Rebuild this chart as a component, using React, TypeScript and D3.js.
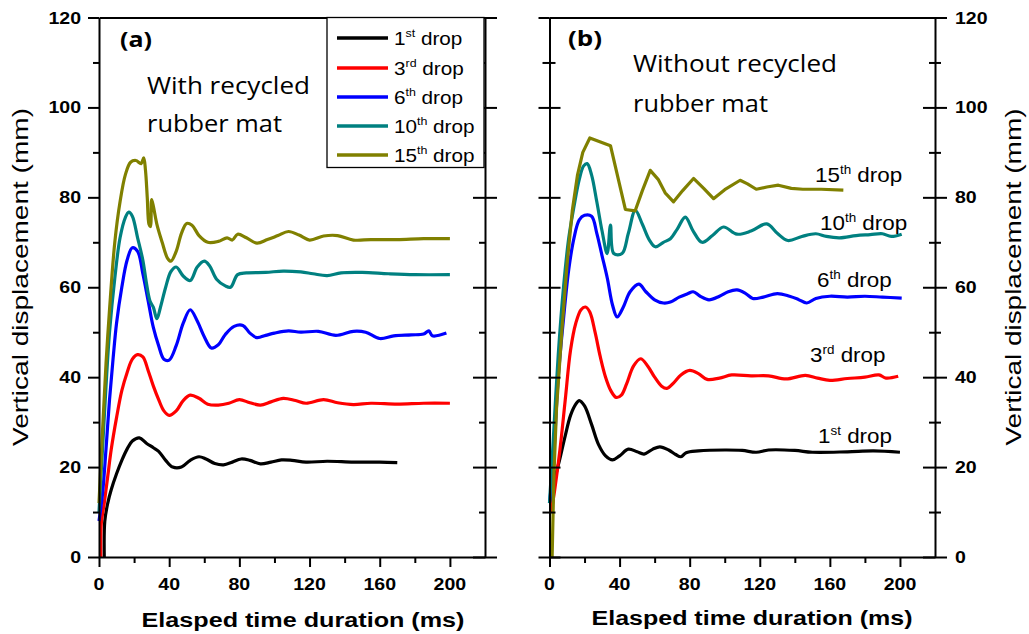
import React from "react";
import * as d3 from "d3";

const FONT = "Liberation Sans";
const CAL = "Open Sans";

// -- DATA -- [elapsed time (ms), vertical displacement (mm)]
// (a) with recycled rubber mat
const a1st = [[3,0],[3.3,8],[5,12],[7,15],[10,18.5],[13,21.5],[16,24],[19,25.8],[23,26.5],[27,25.3],[31,24.3],[34,23.5],[38,21.5],[42,20],[47,20],[52,21.5],[57,22.3],[61,21.8],[66,20.8],[71,20.5],[76,21.1],[81,21.8],[86,21.5],[92,20.7],[98,21.1],[104,21.6],[110,21.5],[118,21.1],[130,21.3],[145,21.1],[160,21.1],[170,21.0]];
const a3rd = [[1,0],[1.3,7.5],[3,12],[5,18],[7,24],[10,31],[13,37],[16,41],[19,44],[22,45],[25,44.5],[28,41.5],[31,38],[34,35],[37,32.5],[40,31.5],[44,32.5],[48,34.8],[52,36],[57,35.3],[62,34],[68,33.8],[74,34.2],[80,35],[86,34.3],[92,33.8],[98,34.5],[105,35.3],[112,34.8],[118,34.2],[128,35],[136,34.3],[145,33.9],[155,34.2],[170,34],[185,34.2],[200,34.2]];
const a6th = [[0,8],[2,14],[4,24],[6,35],[8,44],[10,52],[13,60],[16,66],[19,68.8],[22,68],[25,63],[28,57],[31,51],[34,47],[37,44],[40,43.8],[44,47],[48,52],[52,55],[56,52.5],[60,49],[64,46.5],[68,47.2],[72,49.5],[77,51.3],[82,51.5],[86,49.8],[90,48.8],[95,49.3],[100,49.8],[108,50.3],[115,50],[125,50.2],[135,49.3],[145,50.2],[152,50],[160,48.6],[168,49.2],[178,49.4],[185,49.6],[188,50.3],[190,49.2],[198,49.8]];
const a10th = [[0,10],[2,24],[4,38],[6,50],[9,62],[12,71],[15,75.5],[17,76.7],[19,75.8],[22,71],[25,66],[27,61],[29,57],[31,55.5],[33,53],[35,55.5],[38,60],[41,63.5],[44,64.5],[48,62.5],[52,61.5],[56,64.5],[60,65.8],[63,64.8],[67,61.8],[72,60.3],[75,60],[79,62.8],[84,63.2],[95,63.3],[105,63.6],[115,63.4],[122,63],[130,62.6],[138,63.2],[150,63.3],[165,63],[180,62.8],[200,62.8]];
const a15th = [[0,12],[2,28],[4,43],[6,55],[9,70],[12,79],[15,85],[18,87.8],[21,88.2],[24,87.5],[25.5,88.8],[26.5,86],[27.5,80],[28.5,74],[29.3,73.5],[30,79.5],[31,78],[33,74],[36,70],[39,66.5],[41,65.8],[44,68],[47,72],[50,74.2],[53,73.8],[57,71.5],[62,70],[68,70.2],[73,71],[76,70.5],[79,71.8],[84,71],[90,69.8],[96,70.6],[102,71.5],[108,72.4],[114,71.6],[120,70.5],[128,71.4],[136,71.5],[145,70.5],[155,70.6],[170,70.6],[185,70.8],[200,70.8]];

// (b) without recycled rubber mat
const b1st = [[1,10],[3,17],[6,22],[9,27],[12,31.5],[15,34],[17,34.8],[20,33.6],[24,29.5],[28,25],[32,22.5],[36,21.6],[40,22.5],[45,24],[50,23.4],[54,22.9],[59,24],[63,24.5],[68,23.8],[72,22.8],[75,22.3],[78,23.2],[85,23.6],[100,23.8],[110,23.7],[118,23.3],[125,23.8],[140,23.7],[150,23.3],[170,23.4],[185,23.6],[200,23.3]];
const b3rd = [[1,10],[3,15],[6,24],[9,35],[12,46],[15,52],[18,55],[20.5,55.6],[23,54.5],[26,50],[29,44.5],[32,40],[35,37],[38,35.5],[41,36],[44,38.5],[48,42.5],[52,44.1],[56,42.5],[60,40],[64,38],[67,37.5],[71,38.8],[75,40.5],[80,41.5],[85,40.8],[90,39.5],[97,39.8],[104,40.5],[115,40.3],[125,40.3],[135,39.6],[146,40.4],[153,39.8],[160,39.3],[170,39.7],[180,40],[188,40.5],[192,39.8],[199,40.2]];
const b6th = [[0,12],[2,20],[5,40],[8,53],[11,64],[14,71],[17,75],[20,76],[24,75.8],[27,72],[30,67],[33,62],[36,56],[38.6,53.4],[42,55.5],[46,59],[51,60.7],[55,59],[60,57.2],[65,56.5],[69,56.7],[74,57.8],[79,58.6],[82,59],[86,58],[91,57.2],[97,58],[102,59],[107,59.4],[112,58.6],[116,57.5],[122,57.8],[130,58.6],[137,58],[142,57.3],[146.8,56.5],[152,57.5],[160,58],[170,57.8],[180,58],[190,57.8],[201,57.6]];
const b10th = [[0,12],[2,25],[5,45],[8,60],[11,71],[14,78],[17,84],[19.5,87],[21.5,87.5],[24,85],[27,79],[30,72.5],[32.9,67.5],[34.8,73.8],[36.7,67.5],[41.4,67.5],[45,72],[49,77.1],[53,74],[57,70.5],[60.4,69],[65,70],[69,70.8],[73,73],[77.5,75.6],[82,72.5],[87,70],[93,71.5],[99.3,73.4],[107,71.8],[115,72.5],[124,74.1],[130,72],[136,70.4],[144,71.3],[152,71.9],[158,71.3],[165.6,71],[175,71.5],[183,71.7],[190,71.9],[195,71.3],[201,71.8]];
const b15th = [[1.5,0],[2.5,18],[4,33],[7,50],[10,65],[13,77],[16,85],[19,90],[23,93.2],[34.8,91.5],[43.3,77.3],[48.9,77],[53,81.5],[57.5,86],[62,84],[66,81],[70.8,79],[76,81.5],[82.2,84.2],[88,82],[93.6,79.7],[100,81.7],[108.8,83.8],[113,83],[118,81.8],[124,82.3],[130.6,82.7],[138,82],[144.6,81.8],[155,81.8],[167.7,81.6]];

const dropNames = [["1", "st"], ["3", "rd"], ["6", "th"], ["10", "th"], ["15", "th"]];
const dropColors = ["#000000", "#ff0000", "#0000ff", "#008080", "#808000"];
const yMajor = [0, 20, 40, 60, 80, 100, 120];
const yMinor = [10, 30, 50, 70, 90, 110];
const xMajor = [0, 40, 80, 120, 160, 200];
const xMinor = [20, 60, 100, 140, 180];

const App = () => {
  const svgRef = React.useRef(null);

  React.useEffect(() => {
    const svg = d3.select(svgRef.current);
    svg.selectAll("*").remove();

    // Scales
    const y = d3.scaleLinear().domain([0, 120]).range([557, 17.5]);
    const xa = d3.scaleLinear().domain([0, 220]).range([99, 485]);
    const xb = d3.scaleLinear().domain([0, 220]).range([549.5, 935]);
    const sx = 1.15; // the original figure is a bit wide

    const addAxis = (axis, tx, ty, keepDomain) => {
      const g = svg
        .append("g")
        .attr("transform", `translate(${tx},${ty})`)
        .call(axis.tickSizeOuter(0).tickFormat(() => ""));
      if (keepDomain) g.select(".domain").attr("stroke-width", 2).attr("stroke", "#000");
      else g.select(".domain").remove();
      g.selectAll(".tick line").attr("stroke-width", 2).attr("stroke", "#000");
      g.selectAll(".tick text").remove();
      return g;
    };

    const line = (x, curve) =>
      d3
        .line()
        .x((d) => x(d[0]))
        .y((d) => y(d[1]))
        .curve(curve);

    const drawSeries = (x, sets, curves) => {
      sets.forEach((s, i) => {
        svg
          .append("path")
          .attr("d", line(x, curves[i])(s))
          .attr("fill", "none")
          .attr("stroke", dropColors[i])
          .attr("stroke-width", 3.2)
          .attr("stroke-linejoin", "round");
      });
    };

    const text = (x, yb, str, size, opts = {}) =>
      svg
        .append("text")
        .attr("transform", `translate(${x},${yb})${opts.rotate ? " rotate(-90)" : ` scale(${opts.sx ?? 1},1)`}`)
        .attr("font-family", opts.family ?? FONT)
        .attr("font-size", size)
        .attr("font-weight", opts.bold ? "bold" : "normal")
        .attr("text-anchor", opts.anchor ?? "start")
        .attr("textLength", opts.len ?? null)
        .attr("lengthAdjust", opts.len ? "spacingAndGlyphs" : null)
        .text(str);

    const dropText = (x, yb, name, size, scale) => {
      const t = svg
        .append("text")
        .attr("transform", `translate(${x},${yb}) scale(${scale},1)`)
        .attr("font-family", FONT)
        .attr("font-size", size);
      t.append("tspan").text(name[0]);
      t.append("tspan").attr("dy", -size * 0.42).attr("font-size", size * 0.6).text(name[1]);
      t.append("tspan").attr("dy", size * 0.42).text(" drop");
    };

    // data lines
    const smooth = d3.curveCatmullRom.alpha(0.5);
    drawSeries(xa, [a1st, a3rd, a6th, a10th, a15th], [smooth, smooth, smooth, smooth, smooth]);
    drawSeries(xb, [b1st, b3rd, b6th, b10th, b15th], [smooth, smooth, smooth, smooth, d3.curveLinear]);

    // -- Panel (a) axes --
    addAxis(d3.axisLeft(y).tickValues(yMajor).tickSize(11), xa(0), 0, true);
    addAxis(d3.axisLeft(y).tickValues(yMinor).tickSize(6), xa(0), 0, false);
    addAxis(d3.axisRight(y).tickValues(yMajor).tickSize(12), xa(220), 0, true);
    addAxis(d3.axisLeft(y).tickValues(yMajor).tickSize(12), xa(220), 0, false);
    addAxis(d3.axisLeft(y).tickValues(yMinor).tickSize(6), xa(220), 0, false);
    addAxis(d3.axisBottom(xa).tickValues(xMajor).tickSize(10), 0, y(0), true);
    addAxis(d3.axisBottom(xa).tickValues(xMinor).tickSize(6), 0, y(0), false);
    addAxis(d3.axisTop(xa).tickValues([]), 0, y(120), true);

    // -- Panel (b) axes --
    addAxis(d3.axisLeft(y).tickValues(yMajor).tickSize(11), xb(0), 0, true);
    addAxis(d3.axisRight(y).tickValues(yMajor).tickSize(11), xb(0), 0, false);
    addAxis(d3.axisLeft(y).tickValues(yMinor).tickSize(7), xb(0), 0, false);
    addAxis(d3.axisRight(y).tickValues(yMinor).tickSize(6), xb(0), 0, false);
    addAxis(d3.axisRight(y).tickValues(yMajor).tickSize(12), xb(220), 0, true);
    addAxis(d3.axisLeft(y).tickValues(yMajor).tickSize(12), xb(220), 0, false);
    addAxis(d3.axisRight(y).tickValues(yMinor).tickSize(6), xb(220), 0, false);
    addAxis(d3.axisLeft(y).tickValues(yMinor).tickSize(6), xb(220), 0, false);
    addAxis(d3.axisBottom(xb).tickValues(xMajor).tickSize(10), 0, y(0), true);
    addAxis(d3.axisBottom(xb).tickValues(xMinor).tickSize(6), 0, y(0), false);
    addAxis(d3.axisTop(xb).tickValues([]), 0, y(120), true);

    // tick labels
    yMajor.forEach((v) => {
      text(81, y(v) + 6, String(v), 17, { bold: true, anchor: "end", sx });
      text(955, y(v) + 6, String(v), 17, { bold: true, sx });
    });
    xMajor.forEach((v) => {
      text(xa(v), 590, String(v), 17, { bold: true, anchor: "middle", sx });
      text(xb(v), 590, String(v), 17, { bold: true, anchor: "middle", sx });
    });

    // axis titles
    text(303, 627, "Elasped time duration (ms)", 20, { bold: true, anchor: "middle", len: 323 });
    text(752, 625, "Elasped time duration (ms)", 20, { bold: true, anchor: "middle", len: 321 });
    text(28, 277, "Vertical displacement (mm)", 22, { anchor: "middle", rotate: true, len: 338 });
    text(1021, 277, "Vertical displacement (mm)", 22, { anchor: "middle", rotate: true, len: 337 });

    // panel notes
    text(120, 47, "(a)", 21, { bold: true, family: CAL, len: 32 });
    text(147, 94, "With recycled", 23, { family: CAL, len: 163 });
    text(147, 132, "rubber mat", 23, { family: CAL, len: 135 });
    text(568, 46, "(b)", 21, { bold: true, family: CAL, len: 34 });
    text(633, 72, "Without recycled", 23, { family: CAL, len: 204 });
    text(633, 112, "rubber mat", 23, { family: CAL, len: 135 });

    // legend (a)
    svg
      .append("rect")
      .attr("x", 327)
      .attr("y", 17.5)
      .attr("width", 157)
      .attr("height", 150)
      .attr("fill", "#fff")
      .attr("stroke", "#000")
      .attr("stroke-width", 1.3);
    const legendY = [38, 68, 97, 126, 155];
    dropNames.forEach((n, i) => {
      svg
        .append("line")
        .attr("x1", 337)
        .attr("x2", 388)
        .attr("y1", legendY[i])
        .attr("y2", legendY[i])
        .attr("stroke", dropColors[i])
        .attr("stroke-width", 3.5);
      dropText(394, legendY[i] + 6.5, n, 18, 1.15);
    });

    // direct labels (b)
    const labelPos = [[818, 443], [810, 362], [817, 287], [820, 230], [815, 182]];
    dropNames.forEach((n, i) => dropText(labelPos[i][0], labelPos[i][1], n, 20, 1.12));
  }, []);

  return (
    <svg
      ref={svgRef}
      width={1029}
      height={634}
      style={{ position: "absolute", left: 0, top: 0, background: "#fff" }}
    />
  );
};

export default App;
